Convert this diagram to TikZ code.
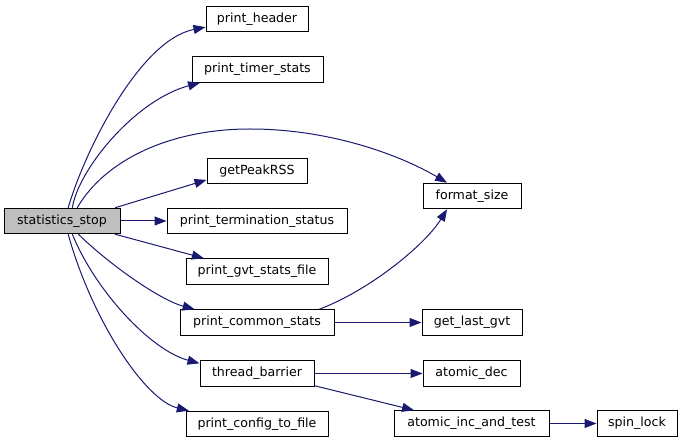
\documentclass[tikz,border=0pt]{standalone}
\usepackage{fontspec}
\setmainfont{DejaVu Sans}
\usetikzlibrary{arrows.meta}
\definecolor{cgedge}{HTML}{191970}
\definecolor{cgroot}{HTML}{BFBFBF}

\begin{document}
\begin{tikzpicture}[
  x=1pt, y=1pt,
  font=\fontsize{12.6}{15}\selectfont,
  fn/.style={draw=black, line width=1pt, minimum height=25.5pt, inner sep=0pt},
  call/.style={draw=cgedge, line width=1pt, -{Triangle[length=12pt,width=9pt]}},
]
\useasboundingbox (0,0) rectangle (683,-443);

% ---------- caller ----------
\node[fn, fill=cgroot, minimum width=116pt] (stop) at (62,-221) {statistics\_stop};

% ---------- direct callees ----------
\node[fn, minimum width=102pt] (hdr)     at (257,-19)    {print\_header};
\node[fn, minimum width=131pt] (tmr)     at (257.5,-69.5) {print\_timer\_stats};
\node[fn, minimum width=100pt] (rss)     at (257,-171)   {getPeakRSS};
\node[fn, minimum width=180pt] (term)    at (257,-221)   {print\_termination\_status};
\node[fn, minimum width=142pt] (gvtf)    at (257,-271.5) {print\_gvt\_stats\_file};
\node[fn, minimum width=154pt] (common)  at (257,-322.5) {print\_common\_stats};
\node[fn, minimum width=114pt] (barrier) at (257,-373.5) {thread\_barrier};
\node[fn, minimum width=142pt] (config)  at (257,-424)   {print\_config\_to\_file};

% ---------- second level ----------
\node[fn, minimum width=98pt]  (fmt)     at (472,-196)   {format\_size};
\node[fn, minimum width=100pt] (lastgvt) at (472,-322.5) {get\_last\_gvt};
\node[fn, minimum width=97pt]  (dec)     at (471.5,-373.5) {atomic\_dec};
\node[fn, minimum width=155pt] (inc)     at (471.5,-423.5) {atomic\_inc\_and\_test};
\node[fn, minimum width=80pt]  (spin)    at (637,-423.5) {spin\_lock};

% ---------- calls ----------
\draw[call] (stop.65) .. controls (85,-150) and (140,-40) .. (hdr.189);
\draw[call] (stop.52) .. controls (78,-170) and (135,-100) .. (tmr.193);
\draw[call] (stop.41) .. controls (105,-160) and (170,-129) .. (250,-129)
  .. controls (330,-129) and (400,-155) .. (fmt.152);
\draw[call] (stop.14) -- (rss.190);
\draw[call] (stop.east) -- (term.west);
\draw[call] (stop.346) -- (gvtf.166);
\draw[call] (stop.321) .. controls (110,-265) and (160,-300) .. (common.168);
\draw[call] (stop.308) .. controls (95,-290) and (150,-350) .. (barrier.170);
\draw[call] (stop.295) .. controls (92,-320) and (145,-400) .. (config.169);

\draw[call] (common.12) .. controls (370,-290) and (425,-245) .. (fmt.208);
\draw[call] (common.east) -- (lastgvt.west);
\draw[call] (barrier.east) -- (dec.west);
\draw[call] (barrier.348) -- (inc.167);
\draw[call] (inc.east) -- (spin.west);
\end{tikzpicture}
\end{document}
